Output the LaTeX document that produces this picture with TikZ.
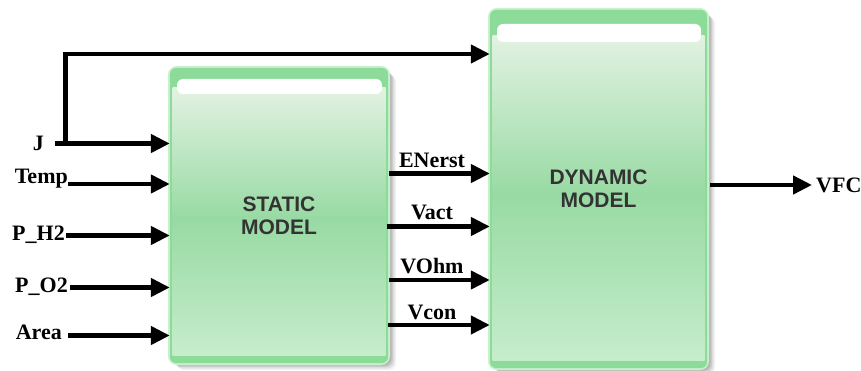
\documentclass[tikz,border=0pt]{standalone}
\usepackage{fontspec}
\setmainfont{Liberation Serif}
\newfontfamily\boxfont{Liberation Sans}
\usetikzlibrary{arrows.meta}
\definecolor{gband}{HTML}{8CDB99}
\definecolor{gglow}{HTML}{C8F0CC}
\definecolor{gtop}{HTML}{E2F2E2}
\definecolor{gmid}{HTML}{98DAA3}
\definecolor{gbot}{HTML}{C6EDCC}
\definecolor{btext}{HTML}{333333}
\newcommand\glassbox[6]{%
  \foreach \s/\o in {8/0.05,6.5/0.07,5/0.09,3.5/0.1}{%
    \fill[black,opacity=\o,rounded corners=7pt] (#1+\s-1,#2+\s-1) rectangle (#3+\s,#4+\s-1);}
  \draw[gglow,line width=4pt,rounded corners=7pt] (#1,#2) rectangle (#3,#4);
  \fill[gband,rounded corners=6pt] (#1,#2) rectangle (#3,#4);
  \shade[top color=gtop,bottom color=gmid] (#1+2.5,#6-6) rectangle (#3-2.5,{(#6+#4)/2-10});
  \shade[top color=gmid,bottom color=gbot] (#1+2.5,{(#6+#4)/2-10.5}) rectangle (#3-2.5,#4-8);
  \fill[white,rounded corners=6pt] (#1+7,#5) rectangle (#3-6,#6);
}
\begin{document}
\begin{tikzpicture}[x=1pt,y=-1pt,
  arr/.style={line width=4.5pt,-{Triangle[length=19pt,width=18pt]}},
  lbl/.style={inner sep=0pt,font=\bfseries\fontsize{22}{24}\selectfont},
  blk/.style={inner sep=0pt,draw=none,align=center,text=btext,
    font=\boxfont\bfseries\fontsize{21}{23}\selectfont}]
\useasboundingbox (0,0) rectangle (861,371);
\fill[white] (0,0) rectangle (861,371);
\glassbox{170}{68}{388}{363}{79}{94}
\glassbox{490}{10}{707}{368}{24}{42}
\node[blk,minimum width=218pt,minimum height=295pt] (static) at (279,215.5) {STATIC\\MODEL};
\node[blk,minimum width=217pt,minimum height=358pt] (dynamic) at (598.5,189) {DYNAMIC\\MODEL};
% input labels
\node[lbl,anchor=east] (J) at (44,143) {J};
\node[lbl,anchor=east] (temp) at (68,178.5) {Temp};
\node[lbl,anchor=east] (ph2) at (65,235) {P\_H2};
\node[lbl,anchor=east] (po2) at (68,286.5) {P\_O2};
\node[lbl,anchor=east] (area) at (62,332) {Area};
% input line starts
\coordinate (jS) at (55,143.5);
\coordinate (jB) at (65.5,143.5);
\coordinate (jT) at (65.5,54);
\coordinate (tS) at (68,184);
\coordinate (hS) at (66,235.5);
\coordinate (oS) at (70,287.5);
\coordinate (aS) at (68,335.5);
\draw[arr] (jS) -- (jS -| static.west);
\draw[arr] (jB) -- (jT) -- (jT -| dynamic.west);
\draw[arr] (tS) -- (tS -| static.west);
\draw[arr] (hS) -- (hS -| static.west);
\draw[arr] (oS) -- (oS -| static.west);
\draw[arr] (aS) -- (aS -| static.west);
% outputs of static
\coordinate (eY) at (0,173.5);
\coordinate (vY) at (0,226.5);
\coordinate (oY) at (0,280);
\coordinate (cY) at (0,325);
\draw[arr] ([xshift=1pt]static.east |- eY) -- (dynamic.west |- eY);
\draw[arr] ([xshift=-1pt]static.east |- vY) -- (dynamic.west |- vY);
\draw[arr] ([xshift=1pt]static.east |- oY) -- (dynamic.west |- oY);
\draw[arr] (static.east |- cY) -- (dynamic.west |- cY);
\node[lbl] (enerst) at (432,160) {ENerst};
\node[lbl] (vact) at (432,212.5) {Vact};
\node[lbl] (vohm) at (432,266.5) {VOhm};
\node[lbl] (vcon) at (432,312.5) {Vcon};
% output
\node[lbl,anchor=west] (vfc) at (816,185) {VFC};
\draw[arr] ([xshift=3pt]dynamic.east |- vfc.west) -- ([xshift=-4pt]vfc.west);
\end{tikzpicture}
\end{document}
